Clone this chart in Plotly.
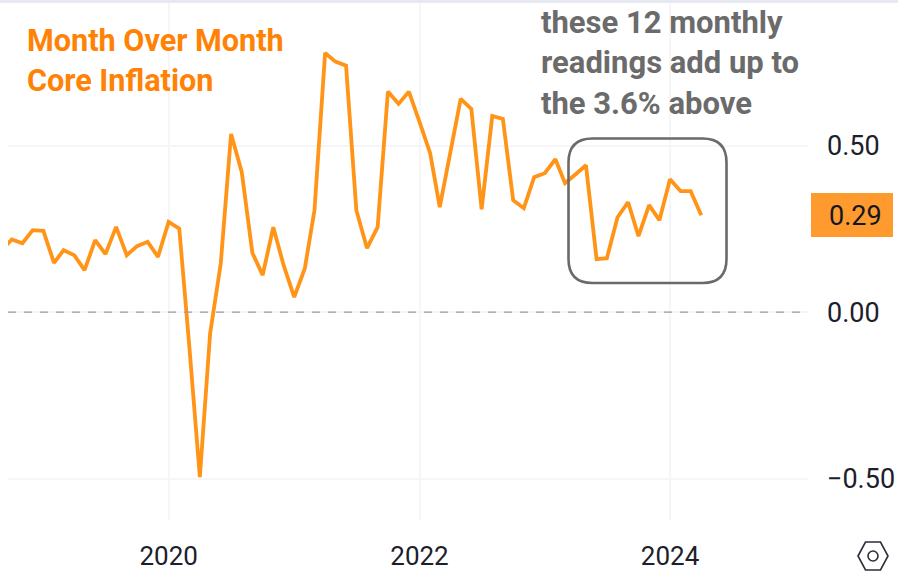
import pandas as pd
import plotly.graph_objects as go

start_month = "2018-09-01"
core_mom = [0.186, 0.218, 0.207, 0.246,
            0.244, 0.148, 0.186, 0.171, 0.126, 0.216, 0.174, 0.256, 0.171, 0.198, 0.211, 0.166,
            0.271, 0.251, -0.099, -0.495, -0.063, 0.147, 0.535, 0.421, 0.178, 0.111, 0.255, 0.141,
            0.045, 0.132, 0.306, 0.778, 0.752, 0.740, 0.306, 0.192, 0.255, 0.662, 0.625, 0.662,
            0.571, 0.477, 0.315, 0.477, 0.640, 0.610, 0.309, 0.589, 0.580, 0.336, 0.312, 0.405,
            0.417, 0.459, 0.387, 0.414, 0.441, 0.159, 0.162, 0.285, 0.330, 0.228, 0.321, 0.276,
            0.399, 0.363, 0.363, 0.291]
months = pd.date_range(start_month, periods=len(core_mom), freq="MS")
y_ticks = [0.5, 0.0, -0.5]
y_tick_labels = ["0.50", "0.00", "−0.50"]
title_text = "Month Over Month<br>Core Inflation"
note_text = "these 12 monthly<br>readings add up to<br>the 3.6% above"
last_label = "0.29"

W, H = 898, 573
L, R, T, B = 8, 808, 3, 520
def fx(p): return (p - L) / (R - L)
def fy(p): return (B - p) / (B - T)

def rounded(x0, y0, x1, y1, r):
    return (f"M {fx(x0+r)} {fy(y0)} L {fx(x1-r)} {fy(y0)} Q {fx(x1)} {fy(y0)} {fx(x1)} {fy(y0+r)} "
            f"L {fx(x1)} {fy(y1-r)} Q {fx(x1)} {fy(y1)} {fx(x1-r)} {fy(y1)} "
            f"L {fx(x0+r)} {fy(y1)} Q {fx(x0)} {fy(y1)} {fx(x0)} {fy(y1-r)} "
            f"L {fx(x0)} {fy(y0+r)} Q {fx(x0)} {fy(y0)} {fx(x0+r)} {fy(y0)} Z")

def hexagon(cx, cy, rx, ry):
    pts = [(cx-rx, cy), (cx-rx/2, cy-ry), (cx+rx/2, cy-ry), (cx+rx, cy), (cx+rx/2, cy+ry), (cx-rx/2, cy+ry)]
    return "M " + " L ".join(f"{fx(a)} {fy(b)}" for a, b in pts) + " Z"

fig = go.Figure(go.Scatter(x=months, y=core_mom, mode="lines",
                           line=dict(color="#ff9417", width=3.8), hoverinfo="skip"))

shapes = [
    dict(type="rect", xref="paper", yref="paper", x0=-0.02, x1=1.15, y0=fy(3), y1=fy(0),
         fillcolor="#e6e8f2", line_width=0),
    dict(type="line", xref="paper", yref="y", x0=0, x1=1, y0=0, y1=0,
         line=dict(color="#9a9ca4", width=1.4, dash="8px,8px")),
    dict(type="path", xref="paper", yref="paper", path=rounded(568.5, 138.5, 726.5, 283, 24),
         line=dict(color="#6a6a6a", width=2.6)),
    dict(type="rect", xref="paper", yref="paper", x0=fx(811), x1=fx(893), y0=fy(237), y1=fy(193),
         fillcolor="#ff9a2e", line_width=0),
    dict(type="path", xref="paper", yref="paper", path=hexagon(873, 556, 15, 14),
         line=dict(color="#2a2e39", width=1.6)),
    dict(type="circle", xref="paper", yref="paper", x0=fx(868), x1=fx(878), y0=fy(561), y1=fy(551),
         line=dict(color="#2a2e39", width=1.6)),
]

annotations = [
    dict(xref="paper", yref="paper", x=fx(27), y=fy(61), text=title_text, showarrow=False,
         xanchor="left", yanchor="middle", align="left", xshift=-2,
         font=dict(family="Roboto", size=30.6, color="#ff8205", weight="bold")),
    dict(xref="paper", yref="paper", x=fx(541), y=fy(63), text=note_text, showarrow=False,
         xanchor="left", yanchor="middle", align="left", xshift=-2,
         font=dict(family="Roboto", size=31, color="#6b6b6b", weight="bold")),
    dict(xref="paper", yref="paper", x=fx(855), y=fy(216), text=last_label, showarrow=False,
         xanchor="center", yanchor="middle",
         font=dict(family="Roboto", size=27, color="#131722")),
]

fig.update_layout(
    width=W, height=H, autosize=False, showlegend=False,
    margin=dict(l=L, r=W-R, t=T, b=H-B),
    paper_bgcolor="white", plot_bgcolor="white",
    shapes=shapes, annotations=annotations,
    xaxis=dict(range=["2018-09-20", "2025-02-06"], tick0="2020-01-01", dtick="M24", tickformat="%Y",
               gridcolor="#f6f6f8", gridwidth=1.5, zeroline=False, showline=False, ticks="",
               ticklabelstandoff=18, tickfont=dict(family="Roboto", size=26, color="#1c202b"), automargin=False),
    yaxis=dict(range=[-0.624, 0.928], side="right", tickvals=y_ticks, ticktext=y_tick_labels,
               gridcolor="#f6f6f8", gridwidth=1.5, zeroline=False, showline=False, ticks="",
               ticklabelstandoff=18, tickfont=dict(family="Roboto", size=27, color="#1c202b"), automargin=False),
)
fig.write_html("out.html", config=dict(displayModeBar=False),
               post_script="document.body.style.margin='0';document.documentElement.style.overflow='hidden';")
